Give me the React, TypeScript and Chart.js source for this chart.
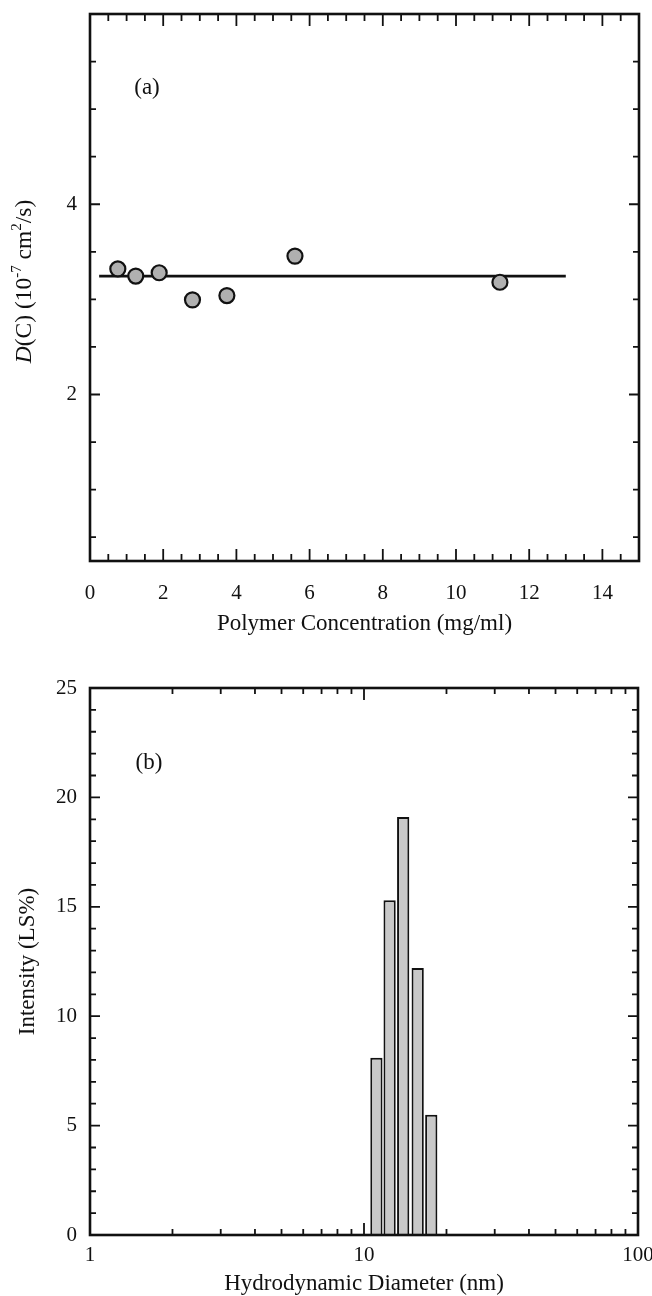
import React, { useEffect, useRef } from 'react';
import { Chart, registerables } from 'chart.js';

Chart.register(...registerables);

const FONT = "'Liberation Serif', 'Times New Roman', Times, serif";
const INK = '#111111';

// ---------- Panel (a): diffusion coefficient vs concentration ----------
const CONC = [0.76, 1.25, 1.89, 2.8, 3.74, 5.6, 11.2];
const DIFF = [3.32, 3.245, 3.28, 2.995, 3.04, 3.455, 3.18];
const FIT_X = [0.25, 13.0];
const FIT_Y = [3.245, 3.245];
const A_X_LABELS = [0, 2, 4, 6, 8, 10, 12, 14];
const A_Y_LABELS = [2, 4];

// ---------- Panel (b): size distribution ----------
const DIAM = [11.1, 12.4, 13.9, 15.7, 17.6];
const INTENS = [8.1, 15.3, 19.1, 12.2, 5.5];
const B_X_LABELS = [1, 10, 100];
const B_Y_LABELS = [0, 5, 10, 15, 20, 25];

type Tick = { v: number; len: number };

function linTicks(min: number, max: number, step: number, majorEvery: number, minorLen: number, majorLen: number): Tick[] {
  const out: Tick[] = [];
  const n = Math.round((max - min) / step);
  for (let i = 0; i <= n; i++) {
    const v = +(min + i * step).toFixed(6);
    const isMajor = Math.abs(v / majorEvery - Math.round(v / majorEvery)) < 1e-6;
    out.push({ v, len: isMajor ? majorLen : minorLen });
  }
  return out;
}

function logTicks(minorLen: number, majorLen: number): Tick[] {
  const out: Tick[] = [];
  for (const dec of [1, 10]) {
    for (let m = 1; m <= 9; m++) out.push({ v: dec * m, len: m === 1 ? majorLen : minorLen });
  }
  out.push({ v: 100, len: majorLen });
  return out;
}

const framePlugin = {
  id: 'frameTicks',
  afterDatasetsDraw(chart: any, _args: any, opts: any) {
    const { ctx, chartArea: a, scales } = chart;
    const xs = scales.x;
    const ys = scales.y;
    ctx.save();
    ctx.strokeStyle = INK;
    ctx.lineWidth = 1.8;
    ctx.beginPath();
    for (const t of opts.xTicks as Tick[]) {
      const px = xs.getPixelForValue(t.v);
      if (px <= a.left + 1 || px >= a.right - 1) continue;
      ctx.moveTo(px, a.bottom);
      ctx.lineTo(px, a.bottom - t.len);
      ctx.moveTo(px, a.top);
      ctx.lineTo(px, a.top + t.len);
    }
    for (const t of opts.yTicks as Tick[]) {
      const py = ys.getPixelForValue(t.v);
      if (py <= a.top + 1 || py >= a.bottom - 1) continue;
      ctx.moveTo(a.left, py);
      ctx.lineTo(a.left + t.len, py);
      ctx.moveTo(a.right, py);
      ctx.lineTo(a.right - t.len, py);
    }
    ctx.stroke();
    ctx.lineWidth = 2.6;
    ctx.strokeRect(a.left, a.top, a.right - a.left, a.bottom - a.top);
    ctx.fillStyle = INK;
    ctx.font = `23px ${FONT}`;
    ctx.textAlign = 'center';
    ctx.textBaseline = 'middle';
    ctx.fillText(opts.label, a.left + opts.labelDx, a.top + opts.labelDy);
    ctx.restore();
  },
};

const richYTitlePlugin = {
  id: 'richYTitle',
  afterDraw(chart: any, _args: any, opts: any) {
    if (!opts || !opts.segments) return;
    const { ctx, chartArea: a } = chart;
    const cy = (a.top + a.bottom) / 2 + (opts.dy || 0);
    const cx = opts.x;
    ctx.save();
    ctx.fillStyle = INK;
    let total = 0;
    const widths: number[] = [];
    for (const s of opts.segments) {
      ctx.font = s.font;
      const w = ctx.measureText(s.text).width;
      widths.push(w);
      total += w;
    }
    ctx.translate(cx, cy);
    ctx.rotate(-Math.PI / 2);
    ctx.textAlign = 'left';
    ctx.textBaseline = 'middle';
    let x = -total / 2;
    opts.segments.forEach((s: any, i: number) => {
      ctx.font = s.font;
      ctx.fillText(s.text, x, s.dy || 0);
      x += widths[i];
    });
    ctx.restore();
  },
};

const tickFont = { family: FONT, size: 21 };
const titleFont = { family: FONT, size: 23, lineHeight: 1 };

function fixX(h: number) {
  return (s: any) => {
    s.height = h;
    s.paddingLeft = 0;
    s.paddingRight = 0;
  };
}
function fixY(w: number) {
  return (s: any) => {
    s.width = w;
    s.paddingTop = 0;
    s.paddingBottom = 0;
  };
}

function buildA(): any {
  return {
    type: 'scatter',
    data: {
      datasets: [
        {
          type: 'scatter',
          data: CONC.map((x, i) => ({ x, y: DIFF[i] })),
          pointRadius: 7.5,
          pointBackgroundColor: '#b0b0b0',
          pointBorderColor: INK,
          pointBorderWidth: 2.2,
          order: 0,
        },
        {
          type: 'line',
          data: FIT_X.map((x, i) => ({ x, y: FIT_Y[i] })),
          borderColor: INK,
          borderWidth: 2.6,
          pointRadius: 0,
          fill: false,
          order: 1,
        },
      ],
    },
    options: {
      responsive: false,
      animation: false,
      devicePixelRatio: 1,
      events: [],
      layout: { padding: { top: 14, right: 13, left: 0, bottom: 0 } },
      plugins: {
        legend: { display: false },
        tooltip: { enabled: false },
        frameTicks: {
          xTicks: linTicks(0, 15, 0.5, 2, 7, 12),
          yTicks: linTicks(0.5, 6, 0.5, 2, 6, 10),
          label: '(a)',
          labelDx: 57,
          labelDy: 74,
        },
        richYTitle: {
          x: 25,
          dy: -6,
          segments: [
            { text: 'D', font: `italic 23.5px ${FONT}` },
            { text: '(C) (10', font: `23.5px ${FONT}` },
            { text: '-7', font: `15px ${FONT}`, dy: -8 },
            { text: ' cm', font: `23.5px ${FONT}` },
            { text: '2', font: `15px ${FONT}`, dy: -8 },
            { text: '/s)', font: `23.5px ${FONT}` },
          ],
        },
      },
      scales: {
        x: {
          type: 'linear',
          min: 0,
          max: 15,
          afterBuildTicks: (s: any) => {
            s.ticks = A_X_LABELS.map((v) => ({ value: v }));
          },
          afterFit: fixX(79),
          grid: { display: false, drawTicks: false },
          border: { display: false },
          ticks: { font: tickFont, color: INK, padding: 20, maxRotation: 0, autoSkip: false, callback: (v: any) => String(v) },
          title: { display: true, text: 'Polymer Concentration (mg/ml)', font: titleFont, color: INK, padding: { top: 0, bottom: 5 } },
        },
        y: {
          type: 'linear',
          min: 0.25,
          max: 6,
          afterBuildTicks: (s: any) => {
            s.ticks = A_Y_LABELS.map((v) => ({ value: v }));
          },
          afterFit: fixY(90),
          grid: { display: false, drawTicks: false },
          border: { display: false },
          ticks: { font: tickFont, color: INK, padding: 13, callback: (v: any) => String(v) },
          title: { display: false },
        },
      },
    },
    plugins: [framePlugin, richYTitlePlugin],
  };
}

function buildB(): any {
  return {
    type: 'bar',
    data: {
      datasets: [
        {
          data: DIAM.map((x, i) => ({ x, y: INTENS[i] })),
          backgroundColor: '#c8c8c8',
          borderColor: INK,
          borderWidth: 2,
          categoryPercentage: 1,
          barPercentage: 0.93,
        },
      ],
    },
    options: {
      responsive: false,
      animation: false,
      devicePixelRatio: 1,
      events: [],
      layout: { padding: { top: 48, right: 14, left: 0, bottom: 0 } },
      plugins: {
        legend: { display: false },
        tooltip: { enabled: false },
        frameTicks: {
          xTicks: logTicks(6, 12),
          yTicks: linTicks(0, 25, 1, 5, 6, 10),
          label: '(b)',
          labelDx: 59,
          labelDy: 75,
        },
      },
      scales: {
        x: {
          type: 'logarithmic',
          min: 1,
          max: 100,
          offset: false,
          afterBuildTicks: (s: any) => {
            s.ticks = B_X_LABELS.map((v) => ({ value: v }));
          },
          afterFit: fixX(61),
          grid: { display: false, drawTicks: false, offset: false },
          border: { display: false },
          ticks: { font: tickFont, color: INK, padding: 8, maxRotation: 0, autoSkip: false, callback: (v: any) => String(v) },
          title: { display: true, text: 'Hydrodynamic Diameter (nm)', font: titleFont, color: INK, padding: { top: 0, bottom: 1 } },
        },
        y: {
          type: 'linear',
          min: 0,
          max: 25,
          afterBuildTicks: (s: any) => {
            s.ticks = B_Y_LABELS.map((v) => ({ value: v }));
          },
          afterFit: fixY(90),
          grid: { display: false, drawTicks: false },
          border: { display: false },
          ticks: { font: tickFont, color: INK, padding: 13, callback: (v: any) => String(v) },
          title: { display: true, text: 'Intensity (LS%)', font: titleFont, color: INK, padding: { top: 16, bottom: 0 } },
        },
      },
    },
    plugins: [framePlugin],
  };
}

function ChartCanvas({ build, width, height, top }: { build: () => any; width: number; height: number; top: number }) {
  const ref = useRef<HTMLCanvasElement>(null);
  useEffect(() => {
    const chart = new Chart(ref.current as HTMLCanvasElement, build());
    return () => chart.destroy();
  }, []);
  return (
    <canvas
      ref={ref}
      width={width}
      height={height}
      style={{ position: 'absolute', left: 0, top, width, height, display: 'block' }}
    />
  );
}

export default function App() {
  return (
    <div style={{ position: 'absolute', left: 0, top: 0, width: 652, height: 1296, background: '#fff' }}>
      <ChartCanvas build={buildA} width={652} height={640} top={0} />
      <ChartCanvas build={buildB} width={652} height={656} top={640} />
    </div>
  );
}
